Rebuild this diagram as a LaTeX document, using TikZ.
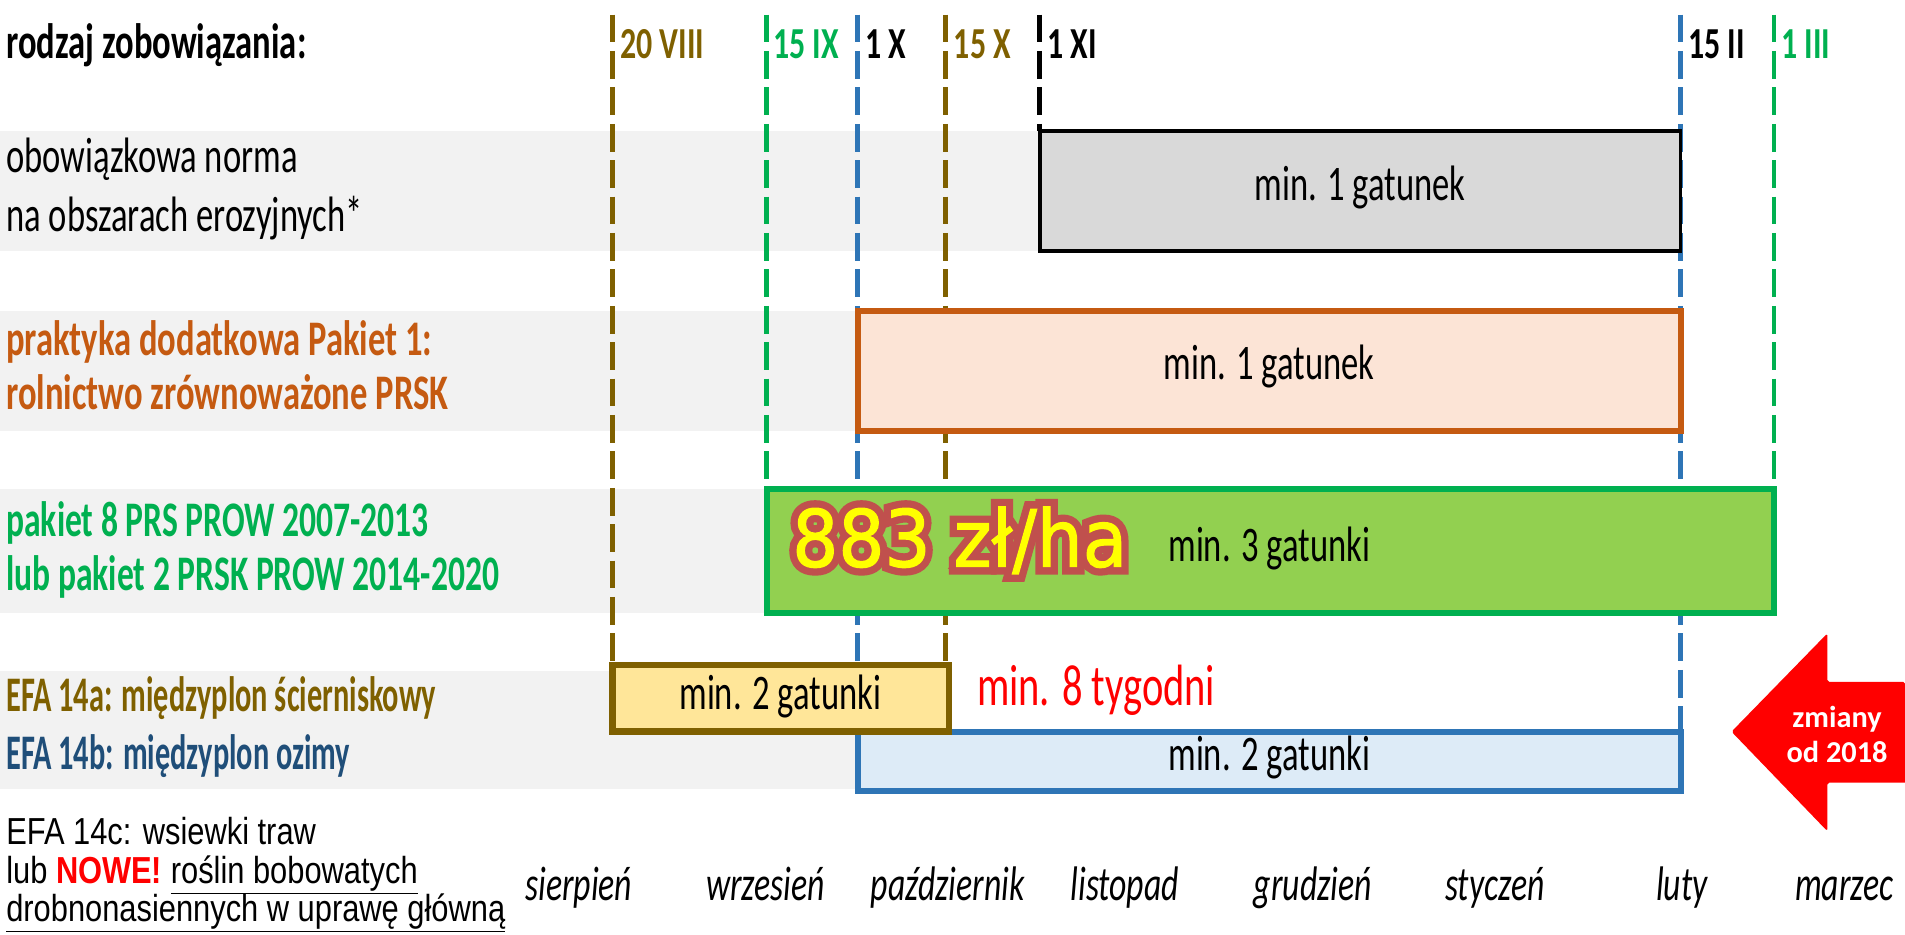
\documentclass[tikz,border=0pt]{standalone}
\usepackage{fontspec}
\setmainfont{Carlito}
\newfontfamily\cnd{Carlito}[FakeStretch=0.695]
\newfontfamily\cndG{Carlito}[FakeStretch=0.675]
\newfontfamily\cndE{Carlito}[FakeStretch=0.61]
\newfontfamily\cndD{Carlito}[FakeStretch=0.72]
\newfontfamily\arl{Liberation Sans}[FakeStretch=0.82]
\newfontfamily\dvsR{DejaVu Sans}[FakeStretch=0.92, FakeBold=20]
\newfontfamily\dvsY{DejaVu Sans}[FakeStretch=0.92, FakeBold=1.5]
\definecolor{brn}{HTML}{7F6000}
\definecolor{grn}{HTML}{00B050}
\definecolor{blu}{HTML}{2E75B6}
\definecolor{org}{HTML}{C55A11}
\definecolor{dblu}{HTML}{1F4E79}
\definecolor{band}{HTML}{F2F2F2}
\definecolor{lgrn}{HTML}{92D050}
\definecolor{lorg}{HTML}{FCE4D6}
\definecolor{lyel}{HTML}{FFE699}
\definecolor{lblu}{HTML}{DDEBF7}
\definecolor{gry}{HTML}{D9D9D9}
\definecolor{outl}{HTML}{C0504D}
\definecolor{yel}{HTML}{FFFF00}
\definecolor{rd}{HTML}{FF0000}
\tikzset{
  lbl/.style={anchor=mid west, inner sep=0pt, font=\cnd\fontsize{41}{48}\selectfont},
  blbl/.style={lbl, font=\cnd\bfseries\fontsize{41}{48}\selectfont},
  glbl/.style={lbl, font=\cndG\bfseries\fontsize{41}{48}\selectfont},
  elbl/.style={lbl, font=\cndE\bfseries\fontsize{41}{48}\selectfont},
  datelbl/.style={anchor=mid west, inner sep=0pt, font=\cndD\bfseries\fontsize{36.5}{42}\selectfont},
  month/.style={anchor=mid, inner sep=0pt, font=\cnd\itshape\fontsize{40}{46}\selectfont},
  boxtxt/.style={anchor=mid, inner sep=0pt, font=\cnd\fontsize{41}{48}\selectfont},
  arl/.style={anchor=mid west, inner sep=0pt, font=\arl\fontsize{31}{37}\selectfont},
  vline/.style={line width=4pt, dash pattern=on 23pt off 7pt},
  bar/.style={line width=5pt},
  price/.style={anchor=base, inner sep=0pt},
}
\begin{document}
\begin{tikzpicture}[x=1pt,y=-1pt]
\useasboundingbox (0,0) rectangle (1570,770);
% bands
\fill[band] (0,108) rectangle (857,207);
\fill[band] (0,256) rectangle (707,355);
\fill[band] (0,403) rectangle (632,505);
\fill[band] (0,553) rectangle (707,650);
% dashed date lines
\coordinate (a1) at (505,12);  \coordinate (b1) at (505,548);
\coordinate (a2) at (632,12);  \coordinate (b2) at (632,403);
\coordinate (a3) at (707,12);  \coordinate (b3) at (707,603);
\coordinate (a4) at (779,12);  \coordinate (b4) at (779,548);
\coordinate (a5) at (857,12);  \coordinate (b5) at (857,108);
\coordinate (a6) at (1385,12); \coordinate (b6) at (1385,603);
\coordinate (a7) at (1462,12); \coordinate (b7) at (1462,403);
\draw[vline, brn] (a1) -- (b1);
\draw[vline, grn] (a2) -- (b2);
\draw[vline, blu] (a3) -- (b3);
\draw[vline, brn] (a4) -- (b4);
\draw[vline, black] (a5) -- (b5);
\draw[vline, blu] (a6) -- (b6);
\draw[vline, grn] (a7) -- (b7);
% date labels
\node[datelbl, text=brn] (d1) at (511,46) {20 VIII};
\node[datelbl, text=grn] (d2) at (637,46) {15 IX};
\node[datelbl, text=black] (d3) at (713,46) {1 X};
\node[datelbl, text=brn] (d4) at (786,46) {15 X};
\node[datelbl, text=black] (d5) at (863,46) {1 XI};
\node[datelbl, text=black] (d6) at (1391,46) {15 II};
\node[datelbl, text=grn] (d7) at (1468,46) {1 III};
% boxes
\draw[line width=3pt, fill=gry] (857,108) rectangle (1385,207);
\draw[bar, draw=org, fill=lorg] (707,256) rectangle (1385,355);
\draw[bar, draw=grn, fill=lgrn] (632,403) rectangle (1462,505);
\draw[bar, draw=blu, fill=lblu] (707,603) rectangle (1385,652);
\draw[line width=5.5pt, draw=brn, fill=lyel] (505,548) rectangle (782,603);
% box texts
\node[boxtxt] (t1) at (1121,163) {min. 1 gatunek};
\node[boxtxt] (t2) at (1046,310) {min. 1 gatunek};
\node[boxtxt] (t3) at (1046,460) {min. 3 gatunki};
\coordinate (pp) at (791,467);
\node[price, text=outl, font=\dvsR\fontsize{65}{74}\selectfont] (priceo) at (pp) {883 zł/ha};
\node[price, text=yel, font=\dvsY\fontsize{65}{74}\selectfont] (price) at (pp) {883 zł/ha};
\node[boxtxt] (t4) at (643,582) {min. 2 gatunki};
\node[boxtxt] (t5) at (1046,633) {min. 2 gatunki};
\node[anchor=mid west, inner sep=0pt, text=rd, font=\cnd\fontsize{48}{56}\selectfont] (weeks) at (805,579) {min. 8 tygodni};
% row labels
\node[blbl] (h) at (5,46) {rodzaj zobowiązania:};
\node[lbl] (r1a) at (5,140) {obowiązkowa norma};
\node[lbl] (r1b) at (5,188) {na obszarach erozyjnych*};
\node[blbl, text=org] (r2a) at (5,291) {praktyka dodatkowa Pakiet 1:};
\node[blbl, text=org] (r2b) at (5,335) {rolnictwo zrównoważone PRSK};
\node[glbl, text=grn] (r3a) at (5,440) {pakiet 8 PRS PROW 2007-2013};
\node[glbl, text=grn] (r3b) at (5,484) {lub pakiet 2 PRSK PROW 2014-2020};
\node[elbl, text=brn] (r4a) at (5,584) {EFA 14a: międzyplon ścierniskowy};
\node[elbl, text=dblu] (r4b) at (5,632) {EFA 14b: międzyplon ozimy};
\node[arl] (c1) at (5,694) {EFA 14c: wsiewki traw};
\node[arl] (c2) at (5,726) {lub \textcolor{rd}{\bfseries NOWE!} \underline{roślin bobowatych}};
\node[arl] (c3) at (5,757) {\underline{drobnonasiennych w uprawę główną}};
% months
\node[month] (m1) at (477,740) {sierpień};
\node[month] (m2) at (631,740) {wrzesień};
\node[month] (m3) at (781,740) {październik};
\node[month] (m4) at (927,740) {listopad};
\node[month] (m5) at (1082,740) {grudzień};
\node[month] (m6) at (1232,740) {styczeń};
\node[month] (m7) at (1386,740) {luty};
\node[month] (m8) at (1520,740) {marzec};
% red arrow
\fill[rd, rounded corners=1.5pt] (1427,603) -- (1506,522) -- (1506,562) -- (1570,562) [sharp corners] -- (1570,645) [rounded corners=1.5pt] -- (1506,645) -- (1506,685) -- cycle;
\node[anchor=center, inner sep=0pt, align=center, text=white, font=\bfseries\fontsize{25}{29}\selectfont] (chg) at (1514,605) {zmiany\\od 2018};
\end{tikzpicture}
\end{document}
